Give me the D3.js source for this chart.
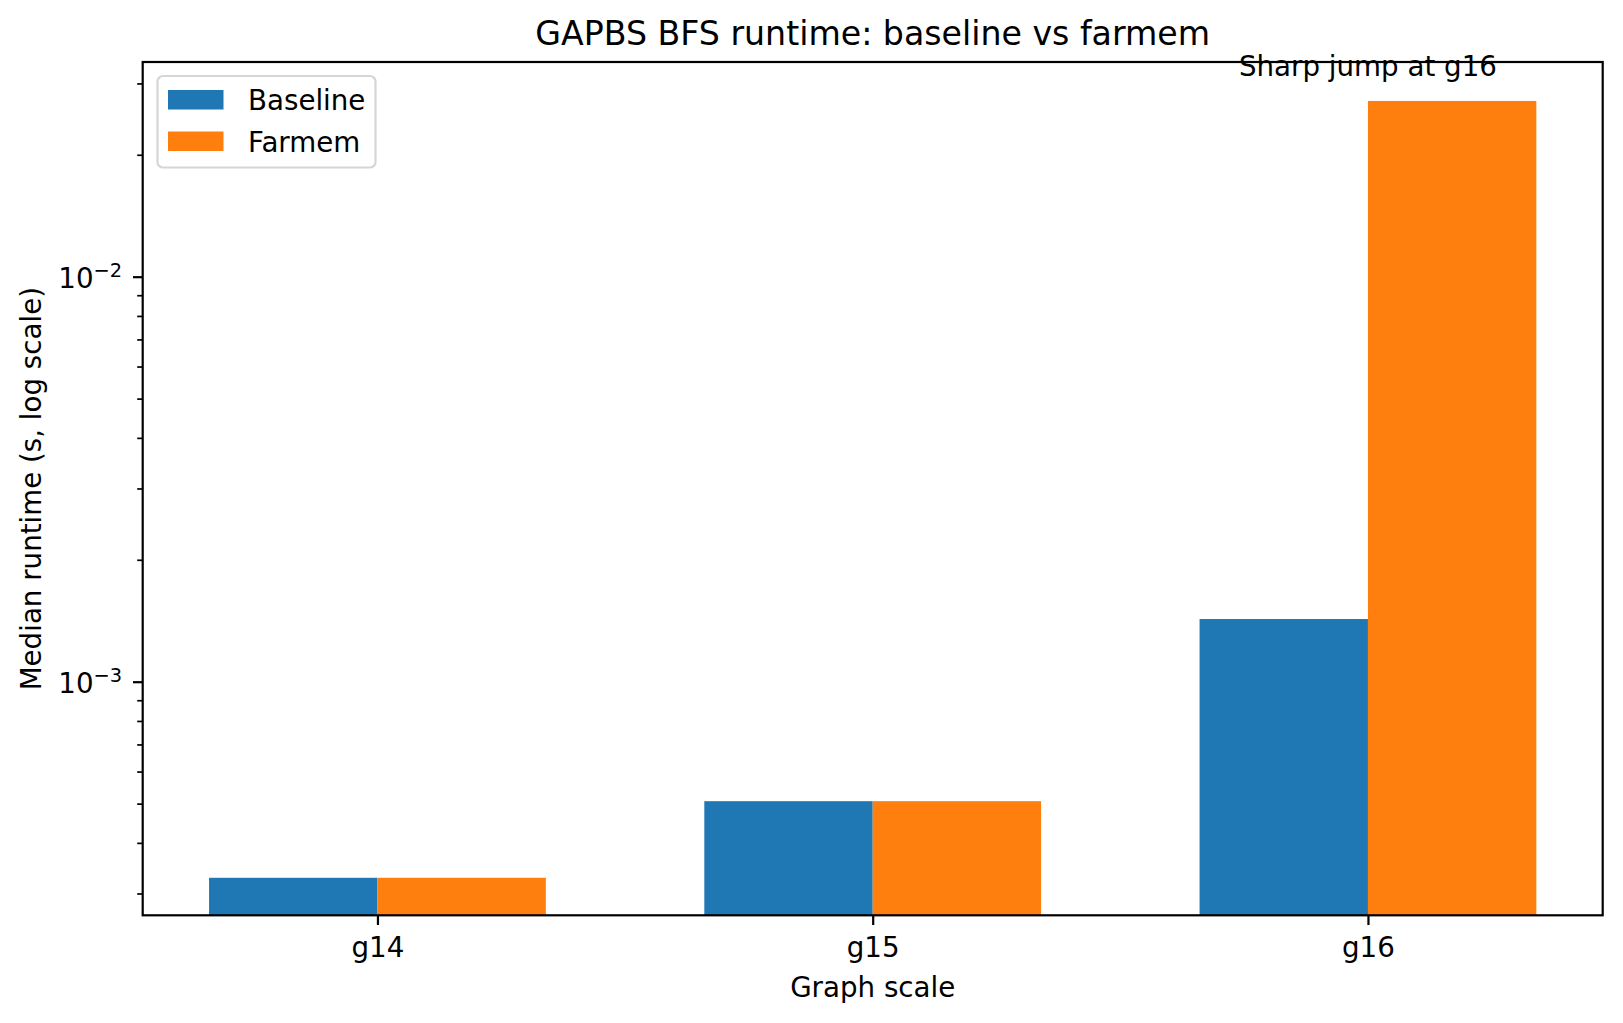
<!DOCTYPE html>
<html>
<head>
<meta charset="utf-8">
<title>GAPBS BFS runtime</title>
<script src="https://cdn.jsdelivr.net/npm/d3@7"></script>
<style>
  body { margin: 0; background: #ffffff; }
  text { font-family: "DejaVu Sans", sans-serif; fill: #000; }
</style>
</head>
<body>
<div id="chart"></div>
<script>
// chart data
var categories = ['g14', 'g15', 'g16'];
var baseline = [0.000328, 0.000507, 0.001428];
var farmem = [0.000328, 0.000507, 0.02716];
var seriesNames = ['Baseline', 'Farmem'];
var seriesColors = ['#1f77b4', '#ff7f0e'];
var yMajorTicks = [1e-3, 1e-2];
var yMinorTicks = [3e-4, 4e-4, 5e-4, 6e-4, 7e-4, 8e-4, 9e-4,
                   2e-3, 3e-3, 4e-3, 5e-3, 6e-3, 7e-3, 8e-3, 9e-3,
                   2e-2, 3e-2];
var yTickLabels = ['\u22123', '\u22122'];  // exponents of 10
var yLimits = [2.650e-4, 0.03389];
var barWidth = 0.34;
var annotation = 'Sharp jump at g16';

var W = 1623, H = 1023;
// plot area (note: "top" is a reserved window property, so use a box object)
var box = {left: 142.7, right: 1602.7, top: 62, bottom: 915.3};

var svg = d3.select('#chart').append('svg')
    .attr('width', W)
    .attr('height', H);

// matplotlib style 5% margins on the bar extent
var span = 2 + 2 * barWidth;
var x = d3.scaleLinear()
    .domain([-barWidth - 0.05 * span, 2 + barWidth + 0.05 * span])
    .range([box.left, box.right]);

var y = d3.scaleLog()
    .domain(yLimits)
    .range([box.bottom, box.top]);

// bars
var series = [baseline, farmem];
series.forEach(function(vals, s) {
    svg.append('g').selectAll('rect')
        .data(vals)
        .join('rect')
        .attr('x', function(d, i) { return x(s === 0 ? i - barWidth : i); })
        .attr('width', function(d, i) { return x(i + barWidth) - x(i); })
        .attr('y', function(d) { return y(d); })
        .attr('height', function(d) { return box.bottom - y(d); })
        .attr('fill', seriesColors[s]);
});

// y axis ticks
var yAxisMajor = d3.axisLeft(y).tickValues(yMajorTicks).tickSize(9.7).tickFormat('');
var yAxisMinor = d3.axisLeft(y).tickValues(yMinorTicks).tickSize(5.5).tickFormat('');

var gyMin = svg.append('g').attr('transform', 'translate(' + box.left + ',0)').call(yAxisMinor);
gyMin.select('.domain').remove();
gyMin.selectAll('.tick line').attr('stroke', '#000').attr('stroke-width', 1.7);

var gy = svg.append('g').attr('transform', 'translate(' + box.left + ',0)').call(yAxisMajor);
gy.select('.domain').remove();
gy.selectAll('.tick line').attr('stroke', '#000').attr('stroke-width', 2.2);
gy.selectAll('.tick text').remove();
gy.selectAll('.tick').each(function(d, i) {
    var t = d3.select(this).append('text')
        .attr('x', -20.5)
        .attr('y', 11)
        .attr('text-anchor', 'end')
        .style('font-size', '27.7px');
    t.append('tspan').text('10');
    t.append('tspan').attr('dy', -11).style('font-size', '19.4px').text(yTickLabels[i]);
});

// x axis
var xAxis = d3.axisBottom(x).tickValues(d3.range(categories.length))
    .tickSize(9.7)
    .tickFormat(function(d) { return categories[d]; });
var gx = svg.append('g').attr('transform', 'translate(0,' + box.bottom + ')').call(xAxis);
gx.select('.domain').remove();
gx.selectAll('.tick line').attr('stroke', '#000').attr('stroke-width', 2.2);
gx.selectAll('.tick text')
    .attr('dy', null)
    .attr('y', 42)
    .attr('fill', '#000')
    .style('font-size', '27.7px');

// frame
svg.append('rect')
    .attr('x', box.left).attr('y', box.top)
    .attr('width', box.right - box.left).attr('height', box.bottom - box.top)
    .attr('fill', 'none')
    .attr('stroke', '#000')
    .attr('stroke-width', 2.2);

// annotation above the g16 farmem bar
svg.append('text')
    .attr('x', x(2))
    .attr('y', y(farmem[2]) - 25)
    .attr('text-anchor', 'middle')
    .style('font-size', '27.7px')
    .text(annotation);

// title and labels
svg.append('text')
    .attr('x', (box.left + box.right) / 2)
    .attr('y', 45)
    .attr('text-anchor', 'middle')
    .style('font-size', '33.2px')
    .text('GAPBS BFS runtime: baseline vs farmem');

svg.append('text')
    .attr('x', (box.left + box.right) / 2)
    .attr('y', 997)
    .attr('text-anchor', 'middle')
    .style('font-size', '27.7px')
    .text('Graph scale');

svg.append('text')
    .attr('transform', 'translate(41,' + (box.top + box.bottom) / 2 + ') rotate(-90)')
    .attr('text-anchor', 'middle')
    .style('font-size', '27.7px')
    .text('Median runtime (s, log scale)');

// legend
var legend = svg.append('g');
legend.append('rect')
    .attr('x', 157.5).attr('y', 76)
    .attr('width', 218).attr('height', 91.5)
    .attr('rx', 5.5).attr('ry', 5.5)
    .attr('fill', '#ffffff').attr('fill-opacity', 0.8)
    .attr('stroke', '#d6d6d6').attr('stroke-width', 2.2);
seriesNames.forEach(function(name, i) {
    legend.append('rect')
        .attr('x', 168).attr('y', 90 + i * 41.5)
        .attr('width', 55.5).attr('height', 19.5)
        .attr('fill', seriesColors[i]);
    legend.append('text')
        .attr('x', 248)
        .attr('y', 110 + i * 41.5)
        .style('font-size', '27.7px')
        .text(name);
});
</script>
</body>
</html>
